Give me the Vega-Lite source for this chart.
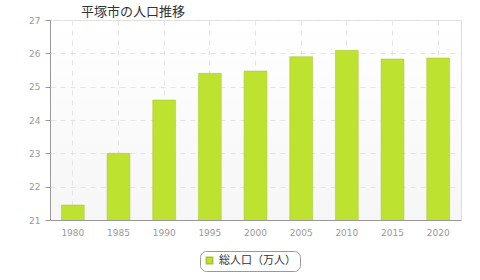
{
  "$schema": "https://vega.github.io/schema/vega-lite/v6.json",
  "autosize": "none",
  "width": 411,
  "height": 200,
  "padding": {"left": 50, "top": 20, "right": 19, "bottom": 60},
  "background": "white",
  "title": {"text": "平塚市の人口推移", "anchor": "start", "frame": "group", "dx": 31, "dy": 7, "offset": 4, "fontSize": 13, "fontWeight": "normal", "color": "#333333", "font": "Noto Sans CJK JP"},
  "config": {
    "view": {"stroke": "#dddddd", "strokeWidth": 1, "fill": {"gradient": "linear", "x1": 0, "y1": 0, "x2": 0, "y2": 1, "stops": [{"offset": 0, "color": "#ffffff"}, {"offset": 1, "color": "#f6f6f6"}]}},
    "axis": {"labelFont": "DejaVu Sans", "labelFontSize": 9, "labelColor": "#999999", "domainColor": "#999999", "tickColor": "#999999", "gridColor": "#e4e4e4", "gridDash": [5, 5], "gridWidth": 1, "title": null}
  },
  "data": {"values": [
    {"year": "1980", "pop": 21.45, "series": "総人口（万人）"},
    {"year": "1985", "pop": 23.0, "series": "総人口（万人）"},
    {"year": "1990", "pop": 24.6, "series": "総人口（万人）"},
    {"year": "1995", "pop": 25.4, "series": "総人口（万人）"},
    {"year": "2000", "pop": 25.47, "series": "総人口（万人）"},
    {"year": "2005", "pop": 25.9, "series": "総人口（万人）"},
    {"year": "2010", "pop": 26.09, "series": "総人口（万人）"},
    {"year": "2015", "pop": 25.83, "series": "総人口（万人）"},
    {"year": "2020", "pop": 25.86, "series": "総人口（万人）"}
  ]},
  "mark": {"type": "bar", "clip": true, "stroke": "#a9c233", "strokeWidth": 0.5},
  "encoding": {
    "x": {"field": "year", "type": "ordinal", "scale": {"paddingInner": 0.5, "paddingOuter": 0.25},
      "axis": {"labelAngle": 0, "ticks": false, "grid": true, "labelPadding": 8, "domainColor": "#999999", "bandPosition": 0.5}},
    "y": {"field": "pop", "type": "quantitative", "scale": {"domain": [21, 27], "zero": false, "nice": false},
      "axis": {"values": [21, 22, 23, 24, 25, 26, 27], "tickSize": 5, "labelPadding": 5, "grid": true, "domainColor": "#999999"}},
    "color": {"field": "series", "type": "nominal", "scale": {"range": ["#bde22f"]},
      "legend": {"title": null, "orient": "none", "legendX": 150, "legendY": 231, "direction": "horizontal", "symbolType": "square", "symbolSize": 40, "labelFont": "Noto Sans CJK JP", "labelFontSize": 11, "labelColor": "#333333", "fillColor": "white", "strokeColor": "#999999", "cornerRadius": 6, "padding": 4}}
  }
}
